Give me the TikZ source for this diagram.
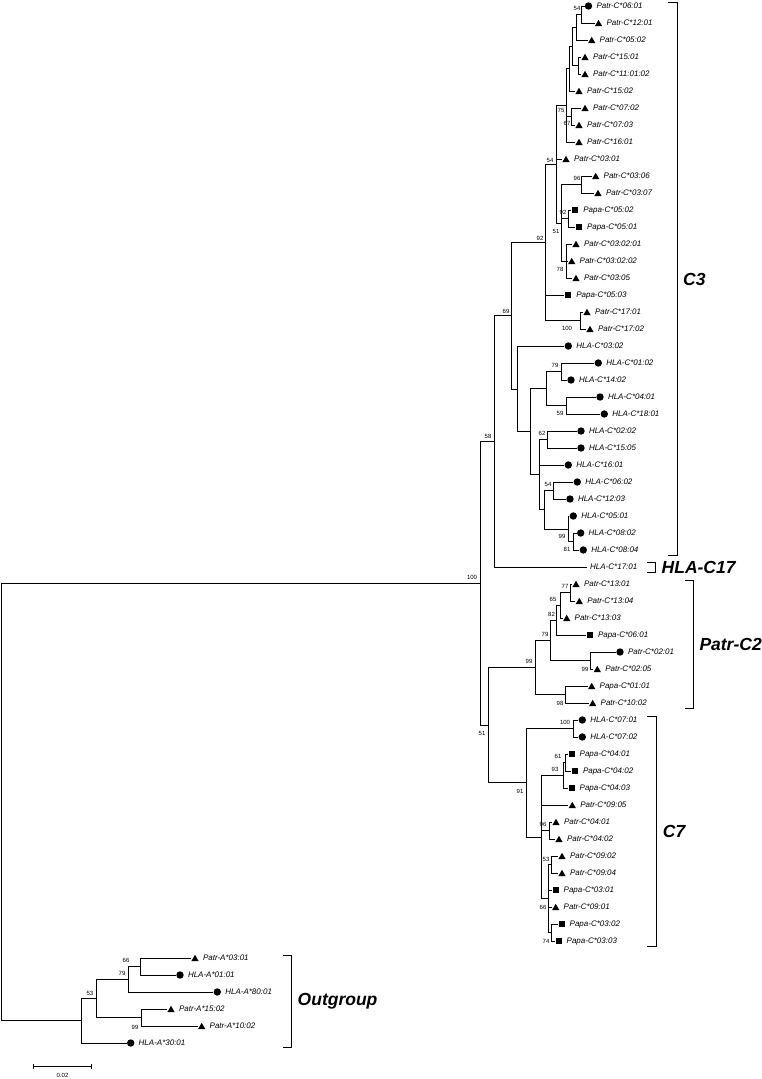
\documentclass[tikz,border=0pt]{standalone}
\usepackage{fontspec}
\setmainfont{Liberation Sans}
\usetikzlibrary{shapes.geometric}
\tikzset{
  br/.style={line width=0.5pt},
  mcirc/.style={circle, fill=black, inner sep=0pt, minimum size=7.4pt},
  mtri/.style={regular polygon, regular polygon sides=3, fill=black, inner sep=0pt, minimum size=8.4pt, yshift=-1pt},
  msq/.style={rectangle, fill=black, inner sep=0pt, minimum size=6pt},
  leaflab/.style={anchor=base west, inner sep=0pt, font=\fontsize{8}{9}\selectfont\itshape},
  boot/.style={inner sep=0pt, font=\fontsize{6}{7}\selectfont},
  clade/.style={anchor=west, inner sep=0pt, font=\fontsize{17.5}{18}\selectfont\bfseries\itshape},
  bracket/.style={line width=0.6pt}
}
\newcommand\lf[4]{%
  \pgfmathsetmacro\yy{6+17*#1}%
  \pgfmathsetmacro\xt{#3-4}%
  \pgfmathsetmacro\xl{#3+7.8}%
  \pgfmathsetmacro\yb{\yy+2.85}%
  \coordinate (L#1) at (\xt,\yy);%
  \node[#2] (M#1) at (#3,\yy) {};%
  \node[leaflab] (T#1) at (\xl,\yb) {#4};%
}
\begin{document}
\begin{tikzpicture}[x=1pt,y=-1pt]
\useasboundingbox (0,0) rectangle (762,1079);
% leaves
\lf{0}{mcirc}{588.5}{Patr-C*06:01}
\lf{1}{mtri}{598.5}{Patr-C*12:01}
\lf{2}{mtri}{591.7}{Patr-C*05:02}
\lf{3}{mtri}{585}{Patr-C*15:01}
\lf{4}{mtri}{585}{Patr-C*11:01:02}
\lf{5}{mtri}{579}{Patr-C*15:02}
\lf{6}{mtri}{585}{Patr-C*07:02}
\lf{7}{mtri}{579}{Patr-C*07:03}
\lf{8}{mtri}{579}{Patr-C*16:01}
\lf{9}{mtri}{566}{Patr-C*03:01}
\lf{10}{mtri}{595.7}{Patr-C*03:06}
\lf{11}{mtri}{598}{Patr-C*03:07}
\lf{12}{msq}{575.3}{Papa-C*05:02}
\lf{13}{msq}{579}{Papa-C*05:01}
\lf{14}{mtri}{576}{Patr-C*03:02:01}
\lf{15}{mtri}{571.7}{Patr-C*03:02:02}
\lf{16}{mtri}{576}{Patr-C*03:05}
\lf{17}{msq}{568.3}{Papa-C*05:03}
\lf{18}{mtri}{587}{Patr-C*17:01}
\lf{19}{mtri}{590}{Patr-C*17:02}
\lf{20}{mcirc}{568.3}{HLA-C*03:02}
\lf{21}{mcirc}{598.3}{HLA-C*01:02}
\lf{22}{mcirc}{571}{HLA-C*14:02}
\lf{23}{mcirc}{600}{HLA-C*04:01}
\lf{24}{mcirc}{604.3}{HLA-C*18:01}
\lf{25}{mcirc}{581}{HLA-C*02:02}
\lf{26}{mcirc}{581}{HLA-C*15:05}
\lf{27}{mcirc}{568.3}{HLA-C*16:01}
\lf{28}{mcirc}{577.3}{HLA-C*06:02}
\lf{29}{mcirc}{570}{HLA-C*12:03}
\lf{30}{mcirc}{573.3}{HLA-C*05:01}
\lf{31}{mcirc}{580.7}{HLA-C*08:02}
\lf{32}{mcirc}{583.3}{HLA-C*08:04}
\coordinate (L33) at (587,567);
\node[leaflab] (T33) at (590,569.85) {HLA-C*17:01};
\lf{34}{mtri}{576}{Patr-C*13:01}
\lf{35}{mtri}{579.3}{Patr-C*13:04}
\lf{36}{mtri}{566.7}{Patr-C*13:03}
\lf{37}{msq}{590}{Papa-C*06:01}
\lf{38}{mcirc}{620}{Patr-C*02:01}
\lf{39}{mtri}{597.3}{Patr-C*02:05}
\lf{40}{mtri}{591.7}{Papa-C*01:01}
\lf{41}{mtri}{592.7}{Patr-C*10:02}
\lf{42}{mcirc}{582.3}{HLA-C*07:01}
\lf{43}{mcirc}{582.3}{HLA-C*07:02}
\lf{44}{msq}{571.7}{Papa-C*04:01}
\lf{45}{msq}{575}{Papa-C*04:02}
\lf{46}{msq}{571.7}{Papa-C*04:03}
\lf{47}{mtri}{572.3}{Patr-C*09:05}
\lf{48}{mtri}{556}{Patr-C*04:01}
\lf{49}{mtri}{559}{Patr-C*04:02}
\lf{50}{mtri}{562}{Patr-C*09:02}
\lf{51}{mtri}{562}{Patr-C*09:04}
\lf{52}{msq}{555.7}{Papa-C*03:01}
\lf{53}{mtri}{555.7}{Patr-C*09:01}
\lf{54}{msq}{561.7}{Papa-C*03:02}
\lf{55}{msq}{558.7}{Papa-C*03:03}
\lf{56}{mtri}{195}{Patr-A*03:01}
\lf{57}{mcirc}{180}{HLA-A*01:01}
\lf{58}{mcirc}{217.3}{HLA-A*80:01}
\lf{59}{mtri}{171}{Patr-A*15:02}
\lf{60}{mtri}{201.7}{Patr-A*10:02}
\lf{61}{mcirc}{130.7}{HLA-A*30:01}
% internal nodes
\coordinate (n1) at (581.7,14.5);
\coordinate (n2) at (576,27.25);
\coordinate (n3) at (578,65.5);
\coordinate (n4) at (572,46.375);
\coordinate (n5) at (569,68.69);
\coordinate (n67) at (571.7,116.5);
\coordinate (n8) at (566.7,105.34);
\coordinate (n96) at (581.7,184.5);
\coordinate (n92) at (568,218.5);
\coordinate (n78) at (566,261);
\coordinate (nX) at (561.7,222.75);
\coordinate (n54b) at (556,164.05);
\coordinate (n100) at (580.7,320.5);
\coordinate (nC3a) at (545,242.27);
\coordinate (n79) at (561.7,371.5);
\coordinate (n59) at (566.7,405.5);
\coordinate (nH3) at (546.7,388.5);
\coordinate (n62) at (547.7,439.5);
\coordinate (n54c) at (553.3,490.5);
\coordinate (n81) at (573.3,541.5);
\coordinate (n99) at (568,528.75);
\coordinate (nH5) at (544.3,509.625);
\coordinate (nH4) at (539.3,474.56);
\coordinate (nH2) at (530,431.53);
\coordinate (nHLA) at (517.7,388.77);
\coordinate (n69) at (511,315.52);
\coordinate (n58) at (494.3,441.26);
\coordinate (n77) at (570,592.5);
\coordinate (n65) at (560,605.25);
\coordinate (n82) at (556.7,620.125);
\coordinate (n99b) at (590,660.5);
\coordinate (n79b) at (550,640.31);
\coordinate (n98) at (565,694.5);
\coordinate (nP2) at (535,667.41);
\coordinate (n100c) at (573.3,728.5);
\coordinate (n61) at (565,762.5);
\coordinate (n93) at (563.3,775.25);
\coordinate (n96c) at (549.3,830.5);
\coordinate (n53c) at (551.7,864.5);
\coordinate (n74) at (551.7,932.5);
\coordinate (n66c) at (548.3,898.5);
\coordinate (n83) at (541.7,836.875);
\coordinate (nC7) at (526.7,782.69);
\coordinate (nB) at (488.3,725.05);
\coordinate (nR) at (480,583.16);
\coordinate (n66o) at (140,966.5);
\coordinate (n79o) at (128.3,979.25);
\coordinate (n99o) at (141.7,1017.5);
\coordinate (n53o) at (96.7,998.375);
\coordinate (nO) at (81.7,1020.69);
\coordinate (root) at (0.8,801.9);
% branches
\foreach \p/\c in {n1/L0, n1/L1, n2/n1, n2/L2, n3/L3, n3/L4, n4/n2, n4/n3, n5/n4, n5/L5,
  n67/L6, n67/L7, n8/n5, n8/n67, n8/L8, n96/L10, n96/L11, n92/L12, n92/L13,
  n78/L14, n78/L15, n78/L16, nX/n96, nX/n92, nX/n78, n54b/n8, n54b/L9, n54b/nX,
  n100/L18, n100/L19, nC3a/n54b, nC3a/L17, nC3a/n100, n79/L21, n79/L22, n59/L23, n59/L24,
  nH3/n79, nH3/n59, n62/L25, n62/L26, n54c/L28, n54c/L29, n81/L31, n81/L32, n99/L30, n99/n81,
  nH5/n54c, nH5/n99, nH4/n62, nH4/L27, nH4/nH5, nH2/nH3, nH2/nH4, nHLA/L20, nHLA/nH2,
  n69/nC3a, n69/nHLA, n58/n69, n58/L33, n77/L34, n77/L35, n65/n77, n65/L36, n82/n65, n82/L37,
  n99b/L38, n99b/L39, n79b/n82, n79b/n99b, n98/L40, n98/L41, nP2/n79b, nP2/n98,
  n100c/L42, n100c/L43, n61/L44, n61/L45, n93/n61, n93/L46, n96c/L48, n96c/L49,
  n53c/L50, n53c/L51, n74/L54, n74/L55, n66c/n53c, n66c/L52, n66c/L53, n66c/n74,
  n83/n93, n83/L47, n83/n96c, n83/n66c, nC7/n100c, nC7/n83, nB/nP2, nB/nC7, nR/n58, nR/nB,
  n66o/L56, n66o/L57, n79o/n66o, n79o/L58, n99o/L59, n99o/L60, n53o/n79o, n53o/n99o,
  nO/n53o, nO/L61, root/nR, root/nO}
  \draw[br] (\p) |- (\c);
% bootstrap values
\node[boot] (b1) at (577,8.5) {54};
\node[boot] (b2) at (561,110) {75};
\node[boot] (b3) at (567,123) {67};
\node[boot] (b4) at (550,160.5) {54};
\node[boot] (b5) at (577,178.5) {96};
\node[boot] (b6) at (563,212.5) {92};
\node[boot] (b7) at (556,231) {51};
\node[boot] (b8) at (560,269.5) {78};
\node[boot] (b9) at (540,238.5) {92};
\node[boot] (b10) at (567,328.5) {100};
\node[boot] (b11) at (506,311) {69};
\node[boot] (b12) at (555,365.5) {79};
\node[boot] (b13) at (560,413.5) {59};
\node[boot] (b14) at (542,433.5) {62};
\node[boot] (b15) at (548,484.5) {54};
\node[boot] (b16) at (562,536.5) {99};
\node[boot] (b17) at (567,549.5) {81};
\node[boot] (b18) at (488,436) {58};
\node[boot] (b19) at (472,577.5) {100};
\node[boot] (b20) at (565,586.5) {77};
\node[boot] (b21) at (553,599.5) {65};
\node[boot] (b22) at (551.5,614) {82};
\node[boot] (b23) at (545,634) {79};
\node[boot] (b24) at (529,661.5) {99};
\node[boot] (b25) at (585,669) {99};
\node[boot] (b26) at (560,703) {98};
\node[boot] (b27) at (482,733) {51};
\node[boot] (b28) at (565,722.5) {100};
\node[boot] (b29) at (558,756.5) {61};
\node[boot] (b30) at (555,769) {93};
\node[boot] (b31) at (520,791.5) {91};
\node[boot] (b32) at (543,824) {96};
\node[boot] (b33) at (546,859) {53};
\node[boot] (b34) at (543,907.5) {66};
\node[boot] (b35) at (546,941.5) {74};
\node[boot] (b36) at (126,960.5) {66};
\node[boot] (b37) at (122,973.5) {79};
\node[boot] (b38) at (90,993) {53};
\node[boot] (b39) at (135,1027) {99};
% clade brackets
\draw[bracket] (668,2.7) -- (677,2.7) -- (677,555) -- (668,555);
\node[clade] (cC3) at (683,279) {C3};
\draw[bracket] (647,562) -- (655,562) -- (655,572) -- (647,572);
\node[clade] (cC17) at (661.5,567) {HLA-C17};
\draw[bracket] (685,580) -- (693.3,580) -- (693.3,708.3) -- (685,708.3);
\node[clade] (cC2) at (699.3,644) {Patr-C2};
\draw[bracket] (647.3,716.7) -- (656.7,716.7) -- (656.7,946) -- (647.3,946);
\node[clade] (cC7) at (662.7,831) {C7};
\draw[bracket] (283,955) -- (291.7,955) -- (291.7,1047.7) -- (283,1047.7);
\node[clade] (cOut) at (297.5,1001) {Outgroup};
% scale bar
\draw[br] (33.3,1066.7) -- (91.7,1066.7);
\draw[br] (33.3,1064) -- (33.3,1069.4);
\draw[br] (91.7,1064) -- (91.7,1069.4);
\node[boot] (sc) at (62.5,1075.7) {0.02};
\end{tikzpicture}
\end{document}
